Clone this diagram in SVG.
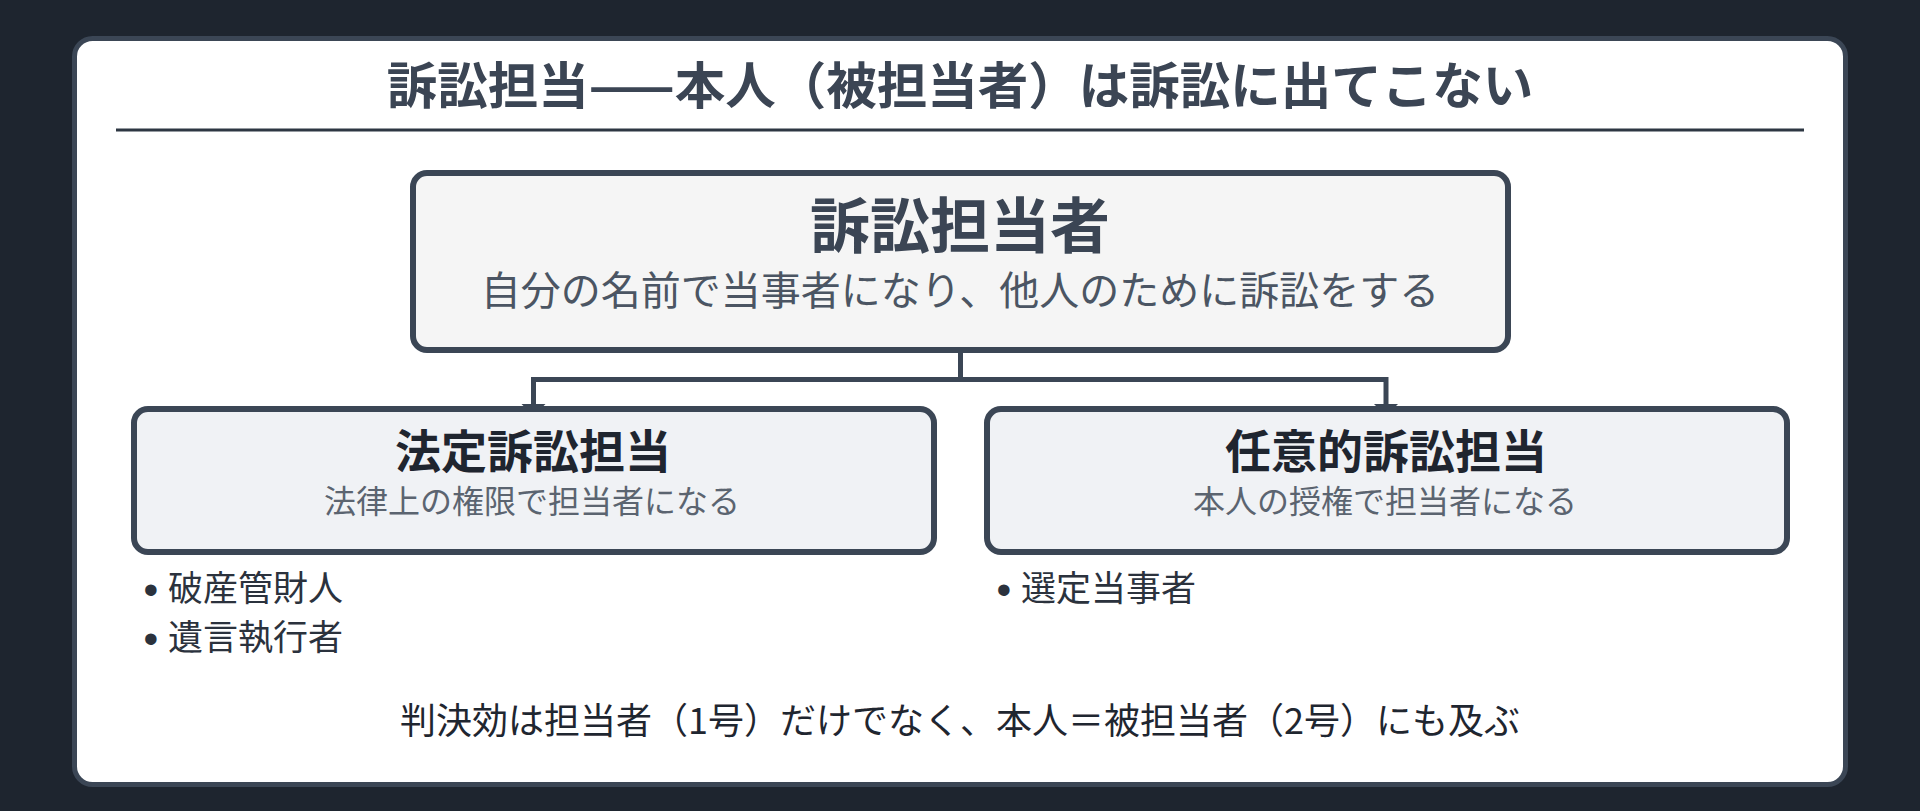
<svg xmlns="http://www.w3.org/2000/svg" width="1920" height="811" viewBox="0 0 1920 811">
  <defs>
    <style>
      .t { font-family: "Noto Sans CJK JP", "Noto Sans", sans-serif; text-anchor: middle; }
      .b { font-weight: 700; }
      .box { stroke: #3b4655; stroke-width: 6; }
      .conn { stroke: #3b4655; stroke-width: 5; fill: none; stroke-linecap: butt; }
      .li { font-family: "Noto Sans CJK JP", "Noto Sans", sans-serif; font-size: 35px; fill: #2b323d; }
      .dot { font-family: "Liberation Sans", sans-serif; font-size: 42px; }
    </style>
    <marker id="arr" markerUnits="userSpaceOnUse" markerWidth="14" markerHeight="26" viewBox="0 -13 14 26" refX="0" refY="0" orient="auto">
      <path d="M0,-12 L12,0 L0,12 Z" fill="#3b4655"/>
    </marker>
  </defs>

  <rect x="0" y="0" width="1920" height="811" fill="#1e252f"/>

  <g id="card">
    <rect x="74.5" y="38.5" width="1771" height="746" rx="18" fill="#ffffff" stroke="#3b4655" stroke-width="5"/>
    <text class="t b" x="960" y="104" font-size="50.5" fill="#3b4554">訴訟担当——本人（被担当者）は訴訟に出てこない</text>
    <line x1="116" y1="130" x2="1804" y2="130" stroke="#2d3642" stroke-width="3"/>
  </g>

  <g id="connectors">
    <line class="conn" x1="960.5" y1="350" x2="960.5" y2="379.5"/>
    <line class="conn" x1="533.5" y1="379.5" x2="1386" y2="379.5"/>
    <line class="conn" x1="533.5" y1="377" x2="533.5" y2="404" marker-end="url(#arr)"/>
    <line class="conn" x1="1386" y1="377" x2="1386" y2="404" marker-end="url(#arr)"/>
  </g>

  <g id="node-main">
    <rect class="box" x="413" y="173" width="1095" height="177" rx="14" fill="#f5f5f5"/>
    <text class="t b" x="960" y="248" font-size="60" fill="#3b4554">訴訟担当者</text>
    <text class="t" x="960" y="305" font-size="40" fill="#4b5563">自分の名前で当事者になり、他人のために訴訟をする</text>
  </g>

  <g id="node-legal">
    <rect class="box" x="134" y="409" width="800" height="143" rx="14" fill="#f0f2f5"/>
    <text class="t b" x="533" y="468" font-size="46" fill="#1f252f">法定訴訟担当</text>
    <text class="t" x="532" y="513" font-size="32" fill="#5b6470">法律上の権限で担当者になる</text>
  </g>

  <g id="node-voluntary">
    <rect class="box" x="987" y="409" width="800" height="143" rx="14" fill="#f0f2f5"/>
    <text class="t b" x="1386" y="468" font-size="46" fill="#1f252f">任意的訴訟担当</text>
    <text class="t" x="1385" y="513" font-size="32" fill="#5b6470">本人の授権で担当者になる</text>
  </g>

  <g id="list-legal">
    <text class="li"><tspan class="dot" x="143.5" y="604">•</tspan><tspan x="168" y="601">破産管財人</tspan></text>
    <text class="li"><tspan class="dot" x="143.5" y="653">•</tspan><tspan x="168" y="650">遺言執行者</tspan></text>
  </g>

  <g id="list-voluntary">
    <text class="li"><tspan class="dot" x="996.5" y="604">•</tspan><tspan x="1021" y="601">選定当事者</tspan></text>
  </g>

  <g id="note">
    <text class="t" x="960" y="734" font-size="36" fill="#1f2630">判決効は担当者（1号）だけでなく、本人＝被担当者（2号）にも及ぶ</text>
  </g>
</svg>
